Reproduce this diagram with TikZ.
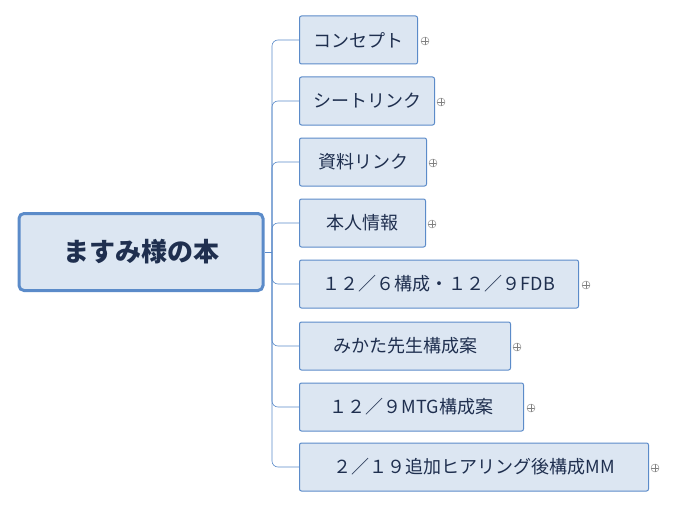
\documentclass[tikz,border=0pt]{standalone}
\usepackage{fontspec}
\setmainfont{Noto Sans CJK JP}
\definecolor{boxfill}{HTML}{DCE6F2}
\definecolor{boxline}{HTML}{5B8BC9}
\definecolor{boxtext}{HTML}{1F2F4F}
\tikzset{
  topic/.style={draw=boxline, fill=boxfill, rounded corners=2pt, line width=1pt,
    anchor=west, minimum height=48pt, inner xsep=10pt, text=boxtext, font=\fontsize{18}{18}\selectfont},
  root/.style={draw=boxline, fill=boxfill, rounded corners=5pt, line width=3pt,
    minimum width=244pt, minimum height=77pt, text=boxtext, font=\fontsize{26}{26}\selectfont\bfseries},
  plus/.style={draw=gray, circle, inner sep=0pt, minimum size=8pt,
    path picture={\draw[gray, line width=0.4pt] (path picture bounding box.west) -- (path picture bounding box.east)
      (path picture bounding box.north) -- (path picture bounding box.south);}},
  link/.style={draw=boxline, line width=0.6pt, rounded corners=6pt}
}
\begin{document}
\begin{tikzpicture}[x=1pt,y=-1pt]
   \useasboundingbox (0,0) rectangle (676,508);

   \node (Root) at (141,252) [root] {ますみ様の本};

   \node (Concept) at (299,40) [topic, minimum width=118pt] {コンセプト};
   \node (SheetLink) at (299,101) [topic, minimum width=135pt] {シートリンク};
   \node (DataLink) at (299,162) [topic, minimum width=127pt] {資料リンク};
   \node (Profile) at (299,223) [topic, minimum width=126pt] {本人情報};
   \node (Plan) at (299,284) [topic, minimum width=279pt] {１２／６構成・１２／９FDB};
   \node (Mikata) at (299,346) [topic, minimum width=211pt] {みかた先生構成案};
   \node (Mtg) at (299,407) [topic, minimum width=224pt] {１２／９MTG構成案};
   \node (Hearing) at (299,467) [topic, minimum width=349pt] {２／１９追加ヒアリング後構成MM};

   \node (ConceptPlus) at (425,41) [plus] {};
   \node (SheetLinkPlus) at (441,102) [plus] {};
   \node (DataLinkPlus) at (433,163) [plus] {};
   \node (ProfilePlus) at (432,224) [plus] {};
   \node (PlanPlus) at (586,285) [plus] {};
   \node (MikataPlus) at (517,347) [plus] {};
   \node (MtgPlus) at (531,408) [plus] {};
   \node (HearingPlus) at (655,468) [plus] {};

   \coordinate (Trunk) at (272,252);
   \draw [link] (Root.east) -- (Trunk);
   \foreach \n in {Concept,SheetLink,DataLink,Profile,Plan,Mikata,Mtg,Hearing}
     \draw [link] (Trunk) |- (\n.west);

\end{tikzpicture}
\end{document}
